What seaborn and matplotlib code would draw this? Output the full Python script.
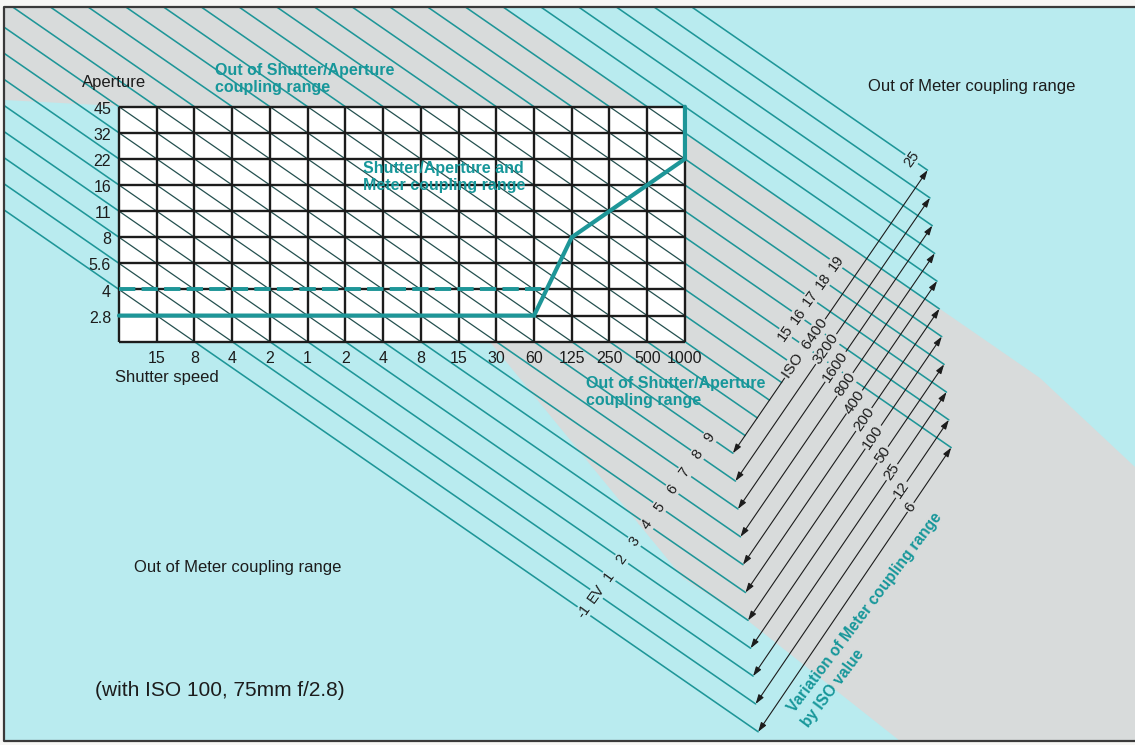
import numpy as np
import pandas as pd
import seaborn as sns
import matplotlib.pyplot as plt
from matplotlib.patches import Rectangle, Polygon
from matplotlib.path import Path

# chart values
shutter_labels = ["15", "8", "4", "2", "1", "2", "4", "8", "15", "30", "60", "125", "250", "500", "1000"]
aperture_labels = ["2.8", "4", "5.6", "8", "11", "16", "22", "32", "45"]
# programme line: shutter step (0 = left edge of grid) / aperture step (1 = f/2.8)
curve_shutter = [0, 11, 12, 13, 14, 15, 15]
curve_aperture = [1, 1, 4, 5, 6, 7, 9]
open_aperture = 2  # dashed f/4 line
ev_values = list(range(-1, 26))
ev_marked = [-1, 0, 1, 2, 3, 4, 5, 6, 7, 8, 9, 15, 16, 17, 18, 19, 25]
iso_values = [6400, 3200, 1600, 800, 400, 200, 100, 50, 25, 12, 6]
iso_ev_low = [9, 8, 7, 6, 5, 4, 3, 2, 1, 0, -1]
iso_ev_high = [25, 24, 23, 22, 21, 20, 19, 18, 17, 16, 15]

# layout (pixels of the 1135x745 picture)
W, H = 1135, 745
X0, CW = 119.0, 37.73
Y0, RH = 341.7, 26.11

CYAN = "#b9ebef"
GREY = "#d8dbdb"
TEAL = "#1e9698"
TEXT_TEAL = "#17979a"
INK = "#1c1c1c"


def d(x, y):
    return np.array([(x - X0) / CW, (Y0 - y) / RH])


def meet(c, p, q):
    # point where the EV line i + j = c crosses the line through p and q
    s = (c - p[0] - p[1]) / ((q[0] - p[0]) + (q[1] - p[1]))
    return p + s * (q - p)


def angle(v):
    return np.degrees(np.arctan2(v[1] * RH, v[0] * CW))


sns.set_theme(style="white")
plt.rcParams["font.family"] = ["Liberation Sans", "DejaVu Sans"]

fig = plt.figure(figsize=(11.35, 7.45), dpi=100, facecolor="#f7f7f5")
ax = fig.add_axes([0, 0, 1, 1])

# backgrounds
frame = [d(4, 7), d(W, 7), d(W, 741), d(4, 741)]
ax.add_patch(Polygon(frame, closed=True, fc=CYAN, ec="none", zorder=0))
grey_px = [(4, 7), (503, 7), (1040, 378), (1135, 467), (1135, 741), (900, 741),
           (747, 620), (683, 578), (490, 342), (490, 106), (118, 106), (4, 100)]
grey_pts = np.array([d(x, y) for x, y in grey_px])
ax.add_patch(Polygon(grey_pts, closed=True, fc=GREY, ec="none", zorder=0.5))
grey_path = Path(grey_pts)

# ends of the EV lines
Lb = (d(733, 454), d(758, 730))
Lt = (d(928, 175), d(952, 457))
Llab = (d(582, 614), d(832, 269))
B0 = meet(iso_ev_low[0] + 3, *Lb)
T0 = meet(iso_ev_high[0] + 3, *Lt)
i_left = d(4, 0)[0]
j_top = d(0, 7)[1]

rows = []
inside = []
for n in ev_values:
    c = n + 3
    j = c - i_left
    start = np.array([i_left, j]) if j <= j_top else np.array([c - j_top, j_top])
    if n <= 9:
        end = meet(c, *Lb)
    elif n >= 15:
        end = meet(c, *Lt)
    else:
        end = meet(c, B0, T0)
    rows += [(n, start[0], start[1]), (n, end[0], end[1])]
    ia, ib = max(0, c - 9), min(15, c)
    if ia < ib:
        inside += [(n, ia, c - ia), (n, ib, c - ib)]

ev_df = pd.DataFrame(rows, columns=["ev", "i", "j"])
in_df = pd.DataFrame(inside, columns=["ev", "i", "j"])
sns.lineplot(data=ev_df, x="i", y="j", units="ev", estimator=None, sort=False,
             color=TEAL, linewidth=1.15, legend=False, ax=ax, zorder=1)

# the shutter/aperture grid
ax.add_patch(Rectangle((0, 0), 15, 9, fc="white", ec="none", zorder=2))
sns.lineplot(data=in_df, x="i", y="j", units="ev", estimator=None, sort=False,
             color="#24504f", linewidth=0.9, legend=False, ax=ax, zorder=3)
ax.vlines(range(16), 0, 9, color=INK, lw=1.7, zorder=4)
ax.hlines(range(10), 0, 15, color=INK, lw=1.7, zorder=4)

# programme lines
sns.lineplot(x=curve_shutter, y=curve_aperture, sort=False, estimator=None,
             color=TEAL, linewidth=3.0, ax=ax, zorder=5,
             solid_joinstyle="miter")
dash_end = np.interp(open_aperture, curve_aperture[1:3], curve_shutter[1:3])
sns.lineplot(x=[0, dash_end], y=[open_aperture, open_aperture], sort=False,
             estimator=None, color=TEAL, linewidth=2.8, ax=ax, zorder=5,
             linestyle=(0, (4.2, 1.6)))

# tick labels
for k, lab in enumerate(shutter_labels):
    ax.text(k + 1, d(0, 358)[1], lab, ha="center", va="center", fontsize=11.5, color=INK, zorder=6)
for k, lab in enumerate(aperture_labels):
    ax.text(d(111, 0)[0], k + 1 - 0.1, lab, ha="right", va="center", fontsize=11.5, color=INK, zorder=6)
ax.text(*d(82, 82), "Aperture", ha="left", va="center", fontsize=12, color=INK, zorder=6)
ax.text(*d(115, 377), "Shutter speed", ha="left", va="center", fontsize=12, color=INK, zorder=6)


def label_bg(p):
    return GREY if grey_path.contains_point(p) else CYAN


# EV numbers along the lines
lab_rot = angle(Llab[1] - Llab[0])
for n in ev_marked:
    p = meet(n + 3, *Llab)
    txt = "EV" if n == 0 else str(n)
    ax.text(*p, txt, rotation=lab_rot, ha="center", va="center", fontsize=10.5,
            color=INK, zorder=7, rotation_mode="anchor",
            bbox=dict(boxstyle="square,pad=0.05", fc=label_bg(p), ec="none"))

# ISO arrows
for k, iso in enumerate(iso_values):
    b = meet(iso_ev_low[k] + 3, *Lb)
    t = meet(iso_ev_high[k] + 3, *Lt)
    ax.annotate("", xy=t, xytext=b, zorder=6,
                arrowprops=dict(arrowstyle="<|-|>,head_length=0.55,head_width=0.18",
                                color=INK, lw=0.8, shrinkA=0, shrinkB=0, mutation_scale=10))
    frac = 0.37 if k == 0 else 0.43 + 0.036 * k
    p = b + frac * (t - b)
    txt = f"ISO  {iso}" if k == 0 else str(iso)
    ax.text(*p, txt, rotation=angle(t - b), ha="center", va="center", fontsize=11,
            color=INK, zorder=7, rotation_mode="anchor",
            bbox=dict(boxstyle="square,pad=0.08", fc=label_bg(p), ec="none"))

# captions
teal_kw = dict(color=TEXT_TEAL, fontsize=11.5, fontweight="bold", ha="left", va="top",
               linespacing=1.15, zorder=8)
ax.text(*d(215, 63), "Out of Shutter/Aperture\ncoupling range", **teal_kw)
ax.text(*d(363, 161), "Shutter/Aperture and\nMeter coupling range", **teal_kw)
ax.text(*d(586, 376), "Out of Shutter/Aperture\ncoupling range", **teal_kw)
ax.text(*d(795, 713), "Variation of Meter coupling range", color=TEXT_TEAL, fontsize=11.2,
        fontweight="bold", rotation=53, rotation_mode="anchor", ha="left", va="baseline", zorder=8)
ax.text(*d(809, 728), "by ISO value", color=TEXT_TEAL, fontsize=11.2,
        fontweight="bold", rotation=53, rotation_mode="anchor", ha="left", va="baseline", zorder=8)

ax.text(*d(868, 86), "Out of Meter coupling range", ha="left", va="center", fontsize=12, color=INK, zorder=8)
ax.text(*d(134, 567), "Out of Meter coupling range", ha="left", va="center", fontsize=12, color=INK, zorder=8)
ax.text(*d(95, 690), "(with ISO 100, 75mm f/2.8)", ha="left", va="center", fontsize=15, color=INK, zorder=8)

# frame
border = np.array([d(W, 7), d(4, 7), d(4, 741), d(W, 741)])
ax.plot(border[:, 0], border[:, 1], color="#3a3a3a", lw=1.6, zorder=9)

ax.set_xlim(d(0, 0)[0], d(W, 0)[0])
ax.set_ylim(d(0, H)[1], d(0, 0)[1])
ax.axis("off")

fig.savefig("out.png", dpi=100, facecolor=fig.get_facecolor())
